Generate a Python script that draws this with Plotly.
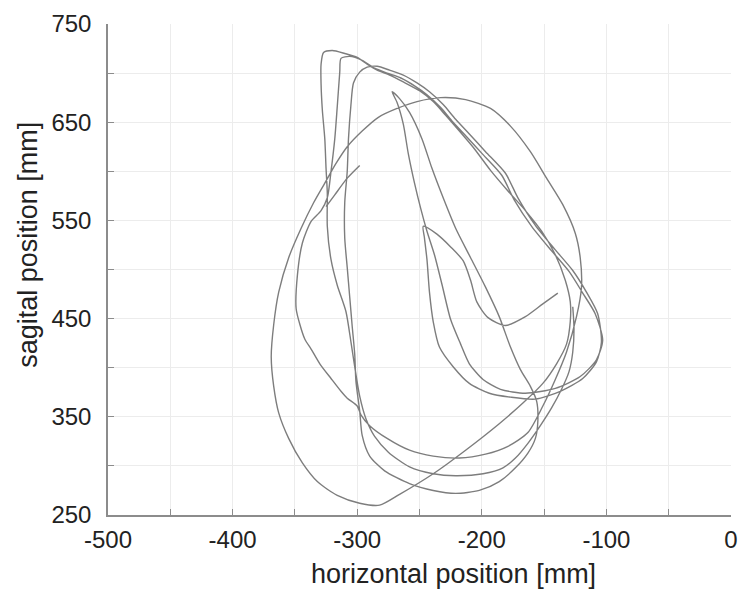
import plotly.graph_objects as go

# tick positions and labels
x_tickvals = [-500, -450, -400, -350, -300, -250, -200, -150, -100, -50, 0]
x_ticktext = ["-500", "", "-400", "", "-300", "", "-200", "", "-100", "", "0"]
y_tickvals = [250, 300, 350, 400, 450, 500, 550, 600, 650, 700, 750]
y_ticktext = ["250", "", "350", "", "450", "", "550", "", "650", "", "750"]

# short free end of the trajectory (horizontal / sagital position, mm)
stub_x = [-298, -308, -318, -325]
stub_y = [606, 593, 576, 564]

# main hand trajectory (horizontal / sagital position, mm)
path_x = [
    -139, -151, -165, -181, -195, -204, -209, -215, -225, -236, -247,
    -246, -244, -242, -239, -234, -223, -210, -194, -177, -157, -137, -119, -108, -104,
    -107, -116, -127, -141, -157, -171, -181, -197, -210, -221, -231, -242, -252, -263, -274, -284, -292, -298, -303,
    -305, -307, -308, -310, -310, -308, -306, -304, -302, -301, -298, -296, -290,
    -278, -258, -239, -221, -202, -186, -173, -163, -157, -155, -156, -161,
    -169, -177, -186, -197, -209, -221, -231, -240, -248, -258, -266, -272,
    -268, -263, -259, -254, -249, -244, -238, -232, -225, -217, -210, -199, -185, -165, -141, -121, -108, -103,
    -109, -119, -130, -144, -160, -174, -184, -199, -212, -223, -233, -244, -254, -265, -276, -286, -296, -306, -313,
    -314, -316, -318, -321, -324,
    -329, -337, -344, -348, -349, -346, -342, -337, -330, -321, -313, -308, -300,
    -297, -290, -276, -258, -239, -218, -197, -179, -163, -151, -141, -132, -124, -120,
    -121, -125, -135, -148, -161, -177, -193, -213, -233, -252, -268, -283, -296, -308, -317, -326, -335, -345, -355,
    -363, -367, -369, -367, -363, -355, -344, -332, -316, -298, -282,
    -266, -239, -213, -186, -167, -151, -140, -132, -129,
    -129, -133, -141, -152, -165, -179, -193, -206, -218, -229, -239, -250, -263, -274, -284, -292, -300, -310, -320, -327,
    -329, -329, -328, -326, -325, -324,
    -324, -321, -316, -309, -305, -302, -298, -293, -286, -275,
    -258, -239, -221, -199, -183, -173, -163, -153, -144, -136, -130, -127, -126, -127,
]
path_y = [
    476, 465, 452, 443, 451, 467, 489, 509, 523, 536, 544,
    532, 510, 477, 447, 421, 401, 384, 374, 370, 368, 376, 389, 406, 426,
    455, 477, 499, 520, 545, 573, 598, 620, 638, 653, 668, 681, 690, 698, 703, 707, 706, 701, 690,
    668, 633, 600, 568, 532, 502, 472, 442, 414, 386, 356, 331, 310,
    295, 282, 275, 272, 275, 284, 298, 313, 328, 346, 366, 381,
    398, 421, 452, 482, 512, 542, 573, 603, 633, 660, 674, 681,
    670, 648, 618, 588, 562, 539, 515, 485, 449, 424, 404, 388, 378, 374, 379, 391, 408, 428,
    455, 476, 498, 519, 544, 571, 596, 617, 635, 650, 665, 678, 687, 695, 700, 705, 713, 717, 715,
    701, 666, 633, 600, 573,
    560, 549, 527, 494, 460, 444, 429, 419, 404, 389, 376, 369, 361,
    352, 341, 328, 316, 310, 308, 312, 320, 334, 361, 388, 416, 452, 482,
    512, 537, 566, 593, 620, 646, 664, 673, 675, 671, 664, 655, 641, 625, 608, 588, 568, 542, 512,
    477, 444, 411, 381, 354, 328, 303, 284, 270, 262, 260,
    271, 292, 316, 343, 364, 384, 404, 424, 447,
    467, 489, 515, 539, 560, 580, 601, 623, 641, 657, 671, 682, 691, 698, 703, 709, 716, 720, 723, 721,
    709, 689, 663, 633, 603, 578,
    544, 510, 484, 457, 426, 401, 371, 348, 330, 314,
    299, 292, 290, 292, 298, 308, 323, 341, 359, 378, 396, 416, 440, 462,
]

xs = stub_x + [None] + path_x
ys = stub_y + [None] + path_y

fig = go.Figure()
fig.add_trace(go.Scatter(
    x=xs, y=ys, mode="lines", connectgaps=False,
    line=dict(color="#7d7d7d", width=1.4, shape="spline", smoothing=0.7),
    hoverinfo="skip", showlegend=False,
))

font_family = "Liberation Sans, Arial, Helvetica, sans-serif"
axis_common = dict(
    showgrid=True, gridcolor="#ececec", gridwidth=1,
    zeroline=False, showline=True, linecolor="#8c8c8c", linewidth=1.5,
    ticks="inside", ticklen=6, tickcolor="#8c8c8c", tickwidth=1,
    tickfont=dict(family=font_family, size=24, color="#222222"),
    mirror=False,
)

fig.update_layout(
    width=748, height=590,
    margin=dict(l=108, r=10, t=19, b=75),
    paper_bgcolor="white", plot_bgcolor="white",
    xaxis=dict(range=[-500, 0], tickmode="array", tickvals=x_tickvals,
               ticktext=x_ticktext, ticklabelstandoff=2, **axis_common),
    yaxis=dict(range=[250, 750], tickmode="array", tickvals=y_tickvals,
               ticktext=y_ticktext, ticklabelstandoff=10, **axis_common),
    annotations=[
        dict(text="horizontal position [mm]", xref="paper", yref="paper",
             x=0.554, y=-0.12, xanchor="center", yanchor="middle", showarrow=False,
             font=dict(family=font_family, size=27, color="#222222")),
        dict(text="sagital position [mm]", xref="paper", yref="paper",
             x=-0.1286, y=0.55, xanchor="center", yanchor="middle", showarrow=False,
             textangle=-90,
             font=dict(family=font_family, size=27, color="#222222")),
    ],
)

fig.write_html("out.html")
